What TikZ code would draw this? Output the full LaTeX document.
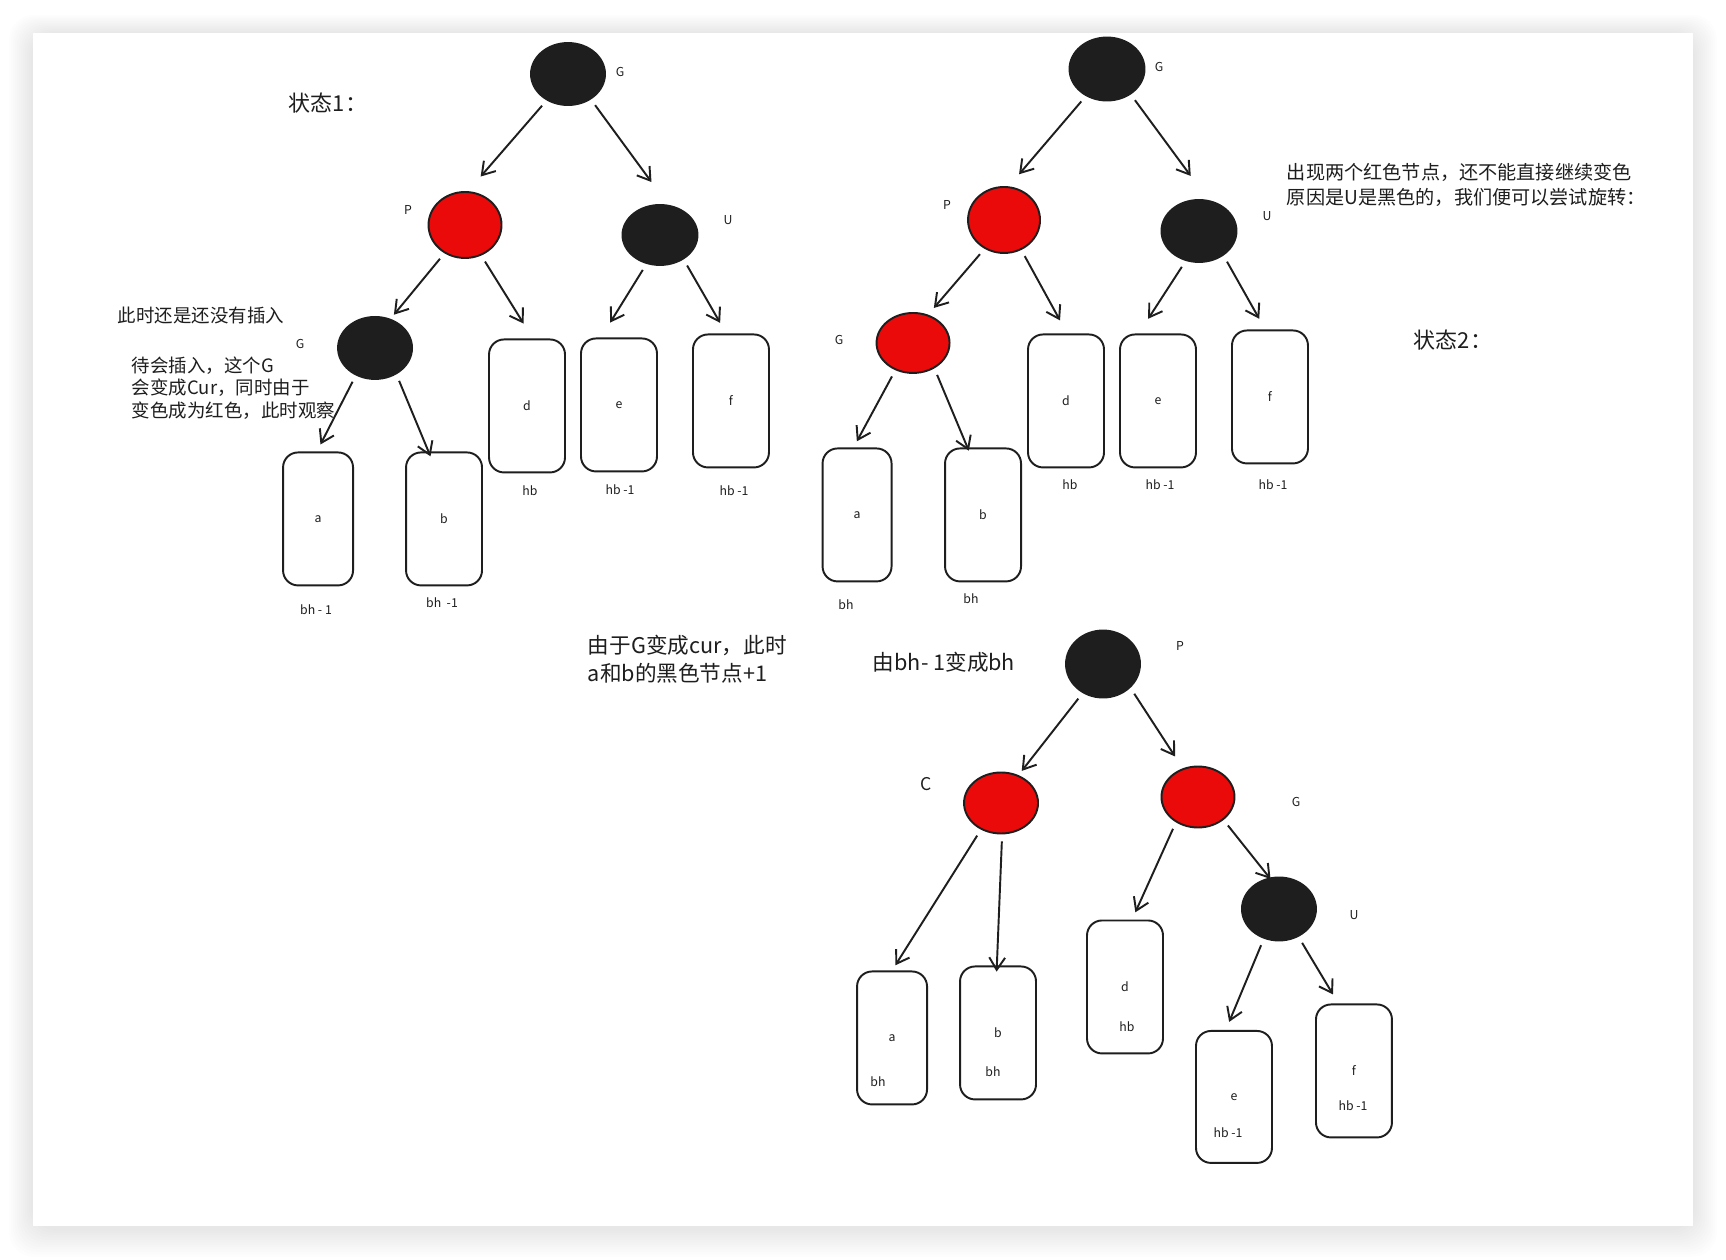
\documentclass[tikz,border=0pt]{standalone}
\usepackage{fontspec}
\setmainfont{Noto Sans CJK SC}
\usepackage{tikz}
\usetikzlibrary{arrows.meta,positioning,shapes.geometric}
\definecolor{ink}{HTML}{1E1E1E}
\definecolor{redfill}{HTML}{EB0A0A}

\begin{document}
\begin{tikzpicture}[x=0.02cm,y=-0.02cm,on grid,line width=1.1pt,
  blk/.style={ellipse,draw=ink,fill=ink,inner sep=0pt,minimum width=1.48cm,minimum height=1.24cm},
  rd/.style={blk,fill=redfill},
  leaf/.style={draw=ink,rounded corners=0.3cm,inner sep=0pt,minimum width=1.52cm,minimum height=2.66cm,text=ink,font=\fontsize{7}{8}\selectfont},
  tag/.style={text=ink,inner sep=0pt,font=\fontsize{7}{8}\selectfont},
  note/.style={text=ink,inner sep=0pt,anchor=west,align=left,font=\fontsize{10.5}{12.8}\selectfont},
  big/.style={note,font=\fontsize{12.3}{15.9}\selectfont},
  arr/.style={draw=ink,-{Straight Barb[length=7pt,width=9pt]},shorten <=4pt,shorten >=7pt}]
\useasboundingbox (0,0) rectangle (1726,1259);
\foreach \k in {1,...,12}
  \fill[black,opacity=0.006,rounded corners=14pt] ({33-2*\k},{34-1.6*\k}) rectangle ({1693+2*\k},{1228+2.4*\k});
\fill[white] (33,33) rectangle (1693,1226);

\node[blk] (G1) at (568,74) {};
\node[rd,minimum width=1.46cm,minimum height=1.32cm,below left=3.02cm and 2.06cm of G1] (P1) {};
\node[blk,minimum width=1.5cm,minimum height=1.2cm,below right=3.22cm and 1.84cm of G1] (U1) {};
\node[blk,below left=2.46cm and 1.8cm of P1] (g1) {};
\node[leaf,minimum width=1.4cm,below left=3.42cm and 1.14cm of g1] (a1) {a};
\node[leaf,right=2.52cm of a1] (b1) {b};
\node[leaf,below right=3.62cm and 1.24cm of P1] (d1) {d};
\node[leaf,below left=3.4cm and 0.82cm of U1] (e1) {e};
\node[leaf,below right=3.32cm and 1.42cm of U1] (f1) {f};
\node[tag] (G1n) at (620,72) {G};
\node[tag] (P1n) at (408,210) {P};
\node[tag] (U1n) at (728,220) {U};
\node[tag] (g1n) at (300,344) {G};
\node[tag] (a1n) at (316,610) {bh - 1};
\node[tag] (b1n) at (442,603) {bh\ \ -1};
\node[tag] (d1n) at (530,491) {hb};
\node[tag] (e1n) at (620,490) {hb -1};
\node[tag] (f1n) at (734,491) {hb -1};
\draw[arr,shorten >=11pt] (G1.-129) -- (P1.85);
\draw[arr,shorten >=16pt] (G1.-48) -- (U1.75);
\draw[arr,shorten >=3pt] (P1.-126) -- (g1.62);
\draw[arr,shorten >=10pt] (P1.-62) -- (d1.85);
\draw[arr,shorten >=10pt] (U1.-115) -- (e1.105);
\draw[arr] (U1.-46) -- (f1.94);
\draw[arr,shorten >=4.5pt] (g1.-125) -- (a1.91);
\draw[arr,shorten >=-3pt] (g1.-51) -- (b1.103);

\node[blk,minimum width=1.5cm,minimum height=1.26cm] (G2) at (1107,69) {};
\node[rd,minimum width=1.44cm,minimum height=1.32cm,below left=3.02cm and 2.06cm of G2] (P2) {};
\node[blk,minimum width=1.5cm,below right=3.24cm and 1.84cm of G2] (U2) {};
\node[rd,minimum width=1.46cm,minimum height=1.2cm,below left=2.46cm and 1.82cm of P2] (g2) {};
\node[leaf,minimum width=1.38cm,below left=3.44cm and 1.12cm of g2] (a2) {a};
\node[leaf,right=2.52cm of a2] (b2) {b};
\node[leaf,below right=3.62cm and 1.24cm of P2] (d2) {d};
\node[leaf,below left=3.4cm and 0.82cm of U2] (e2) {e};
\node[leaf,below right=3.32cm and 1.42cm of U2] (f2) {f};
\node[tag] (G2n) at (1159,67) {G};
\node[tag] (P2n) at (947,205) {P};
\node[tag] (U2n) at (1267,216) {U};
\node[tag] (g2n) at (839,340) {G};
\node[tag] (a2n) at (846,605) {bh};
\node[tag] (b2n) at (971,599) {bh};
\node[tag] (d2n) at (1070,485) {hb};
\node[tag] (e2n) at (1160,485) {hb -1};
\node[tag] (f2n) at (1273,485) {hb -1};
\draw[arr,shorten >=9pt] (G2.-128) -- (P2.82);
\draw[arr,shorten >=17pt] (G2.-47) -- (U2.73);
\draw[arr,shorten >=5pt] (P2.-124) -- (g2.62);
\draw[arr,shorten >=8.5pt] (P2.-60) -- (d2.89);
\draw[arr,shorten >=10pt] (U2.-114) -- (e2.106);
\draw[arr] (U2.-45) -- (f2.94);
\draw[arr,shorten >=4pt] (g2.-123) -- (a2.93);
\draw[arr,shorten >=-2pt] (g2.-50) -- (b2.103);

\node[blk,minimum height=1.34cm] (P3) at (1103,664) {};
\node[rd,minimum height=1.22cm,below left=2.78cm and 2.04cm of P3] (C3) {};
\node[rd,minimum width=1.46cm,minimum height=1.22cm,below right=2.66cm and 1.9cm of P3] (G3) {};
\node[blk,minimum height=1.26cm,below right=2.24cm and 1.62cm of G3] (U3) {};
\node[leaf,minimum width=1.4cm,below left=4.7cm and 2.18cm of C3] (a3) {a};
\node[leaf,below left=4.6cm and 0.06cm of C3] (b3) {b};
\node[leaf,below left=3.8cm and 1.46cm of G3] (d3) {d};
\node[leaf,minimum height=2.64cm,below left=3.76cm and 0.9cm of U3] (e3) {e};
\node[leaf,below right=3.24cm and 1.5cm of U3] (f3) {f};
\node[tag] (P3n) at (1180,646) {P};
\node[tag,font=\fontsize{10}{12}\selectfont] (C3n) at (926,784) {C};
\node[tag] (G3n) at (1296,802) {G};
\node[tag] (U3n) at (1354,915) {U};
\node[tag] (a3n) at (878,1082) {bh};
\node[tag] (b3n) at (993,1072) {bh};
\node[tag] (d3n) at (1127,1027) {hb};
\node[tag] (e3n) at (1228,1133) {hb -1};
\node[tag] (f3n) at (1353,1106) {hb -1};
\draw[arr,shorten >=3pt] (P3.-125) -- (C3.58);
\draw[arr,shorten >=8pt] (P3.-41) -- (G3.118);
\draw[arr,shorten >=3.5pt] (C3.-127) -- (a3.90);
\draw[arr,shorten >=-3.5pt] (C3.-88) -- (b3.91);
\draw[arr,shorten >=4.5pt] (G3.-131) -- (d3.84);
\draw[arr,shorten >=-1pt] (G3.-42) -- (U3.107);
\draw[arr,shorten >=5pt] (U3.-117) -- (e3.97);
\draw[arr,shorten >=6pt] (U3.-55) -- (f3.103);

\node[big,font=\fontsize{12.5}{15}\selectfont] (s1) at (288,103) {状态1：};
\node[note] (n1) at (117,315) {此时还是还没有插入};
\node[note] (n2) at (131,388) {待会插入，这个G\\会变成Cur，同时由于\\变色成为红色，此时观察};
\node[note,font=\fontsize{10.9}{14.2}\selectfont] (n3) at (1286,185) {出现两个红色节点，还不能直接继续变色\\原因是U是黑色的，我们便可以尝试旋转：};
\node[big,font=\fontsize{12.5}{15}\selectfont] (s2) at (1413,340) {状态2：};
\node[big] (n4) at (587,659) {由于G变成cur，此时\\a和b的黑色节点+1};
\node[big] (n5) at (872,662) {由bh- 1变成bh};
\end{tikzpicture}
\end{document}
